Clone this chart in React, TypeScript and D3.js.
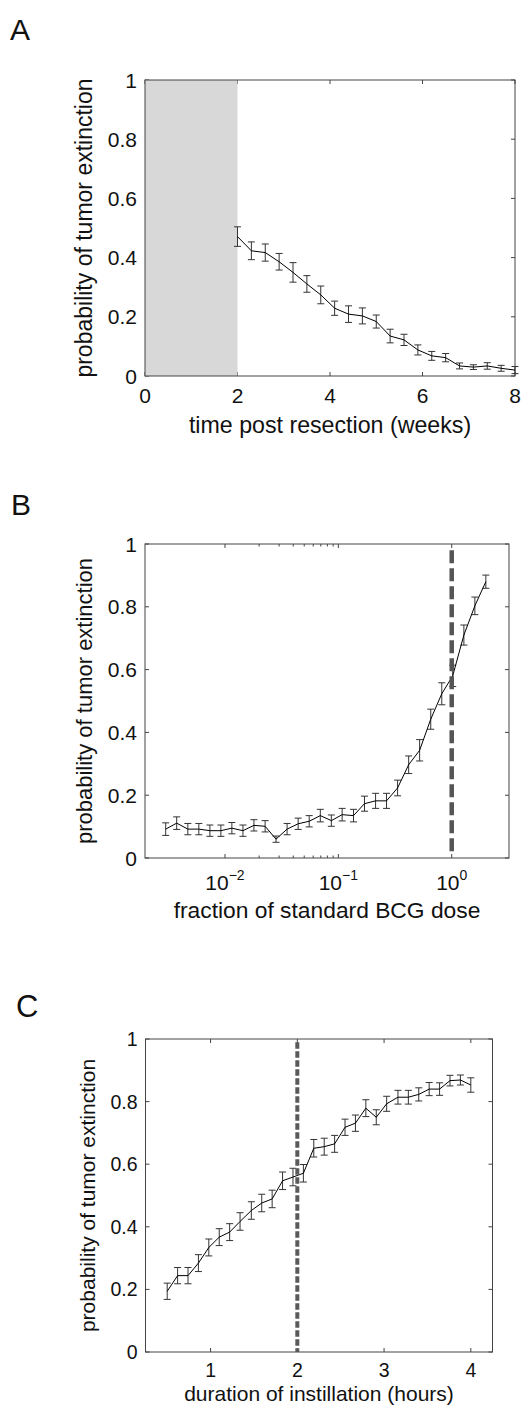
import React from "react";
import * as d3 from "d3";

// ---------- data ----------
const A_WEEKS = [2.0, 2.3, 2.6, 2.9, 3.2, 3.5, 3.8, 4.1, 4.4, 4.7, 5.0, 5.3, 5.6, 5.9, 6.2, 6.5, 6.8, 7.1, 7.4, 7.7, 8.0];
const A_PROB = [0.471, 0.423, 0.417, 0.386, 0.35, 0.311, 0.274, 0.229, 0.209, 0.203, 0.184, 0.135, 0.122, 0.088, 0.068, 0.062, 0.034, 0.03, 0.034, 0.026, 0.02];
const A_ERR = [0.033, 0.03, 0.029, 0.028, 0.033, 0.028, 0.03, 0.024, 0.028, 0.027, 0.022, 0.023, 0.019, 0.017, 0.015, 0.014, 0.01, 0.008, 0.011, 0.01, 0.012];

const B_DOSE = [0.003, 0.00375, 0.0047, 0.00588, 0.00736, 0.0092, 0.0115, 0.0144, 0.018, 0.0226, 0.0282, 0.0353, 0.0442, 0.0553, 0.0693, 0.0867, 0.108, 0.136, 0.17, 0.213, 0.266, 0.333, 0.417, 0.521, 0.653, 0.817, 1.02, 1.28, 1.6, 2.0];
const B_PROB = [0.092, 0.111, 0.092, 0.092, 0.087, 0.087, 0.095, 0.087, 0.104, 0.101, 0.06, 0.092, 0.109, 0.117, 0.135, 0.119, 0.138, 0.135, 0.173, 0.182, 0.182, 0.223, 0.297, 0.343, 0.442, 0.523, 0.58, 0.71, 0.803, 0.88];
const B_ERR = [0.02, 0.02, 0.018, 0.018, 0.018, 0.018, 0.018, 0.018, 0.018, 0.018, 0.01, 0.018, 0.018, 0.018, 0.02, 0.018, 0.02, 0.02, 0.024, 0.024, 0.024, 0.025, 0.028, 0.034, 0.032, 0.035, 0.034, 0.032, 0.028, 0.021];

const C_HOURS = [0.5, 0.62, 0.74, 0.86, 0.98, 1.1, 1.22, 1.34, 1.47, 1.59, 1.71, 1.83, 1.95, 2.07, 2.19, 2.31, 2.43, 2.55, 2.67, 2.79, 2.91, 3.03, 3.16, 3.28, 3.4, 3.52, 3.64, 3.76, 3.88, 4.0];
const C_PROB = [0.194, 0.244, 0.244, 0.284, 0.334, 0.367, 0.383, 0.417, 0.452, 0.476, 0.489, 0.547, 0.559, 0.571, 0.651, 0.656, 0.665, 0.718, 0.731, 0.779, 0.75, 0.793, 0.814, 0.814, 0.823, 0.84, 0.84, 0.867, 0.869, 0.853];
const C_ERR = [0.026, 0.026, 0.026, 0.027, 0.027, 0.027, 0.027, 0.028, 0.028, 0.028, 0.028, 0.028, 0.028, 0.028, 0.028, 0.027, 0.027, 0.026, 0.026, 0.027, 0.024, 0.024, 0.022, 0.022, 0.021, 0.021, 0.02, 0.017, 0.016, 0.023];

const Y_TICKS = [0, 0.2, 0.4, 0.6, 0.8, 1];
const A_X_TICKS = [0, 2, 4, 6, 8];
const B_X_TICKS = [0.01, 0.1, 1];
const B_X_TICK_EXP = ["−2", "−1", "0"];
const B_X_MINOR = [0.02, 0.03, 0.04, 0.05, 0.06, 0.07, 0.08, 0.09];
const C_X_TICKS = [1, 2, 3, 4];

const A_SHADE = [0, 2];
const B_REF_DOSE = 1;
const C_REF_HOURS = 2;

const Y_LABEL = "probability of tumor extinction";
const FONT = "'Liberation Sans', Arial, Helvetica, sans-serif";
const AXIS = "#444";

type PanelProps = {
  x: any;
  y: any;
  xs: number[];
  ys: number[];
  errs: number[];
  xTicks: number[];
  minorTicks?: number[];
  tickFont: number;
  labelFont: number;
  yLabelFont: number;
  xLabel: string;
  xLabelBaseline: number;
  yLabelX: number;
  renderXTick: (v: number, i: number) => React.ReactNode;
  under?: React.ReactNode;
  over?: React.ReactNode;
};

function Panel(p: PanelProps) {
  const [x0, x1] = p.x.range();
  const [yb, yt] = p.y.range();
  const line = d3
    .line<number>()
    .x((_, i) => p.x(p.xs[i]))
    .y((v) => p.y(v));
  const T = 4;
  const cap = 3.5;
  return (
    <g>
      {Y_TICKS.map((v) => (
        <g key={"yt" + v} stroke={AXIS} strokeWidth={1}>
          <line x1={x0} x2={x0 + T} y1={p.y(v)} y2={p.y(v)} />
          <line x1={x1} x2={x1 - T} y1={p.y(v)} y2={p.y(v)} />
        </g>
      ))}
      {p.xTicks.map((v) => (
        <g key={"xt" + v} stroke={AXIS} strokeWidth={1}>
          <line x1={p.x(v)} x2={p.x(v)} y1={yb} y2={yb - T} />
          <line x1={p.x(v)} x2={p.x(v)} y1={yt} y2={yt + T} />
        </g>
      ))}
      {(p.minorTicks || []).map((v) => (
        <g key={"mt" + v} stroke={AXIS} strokeWidth={1}>
          <line x1={p.x(v)} x2={p.x(v)} y1={yb} y2={yb - 2.5} />
          <line x1={p.x(v)} x2={p.x(v)} y1={yt} y2={yt + 2.5} />
        </g>
      ))}
      {p.under}
      <rect x={x0} y={yt} width={x1 - x0} height={yb - yt} fill="none" stroke={AXIS} strokeWidth={1} />
      <g stroke="#333" strokeWidth={1}>
        {p.xs.map((xv, i) => {
          const cx = p.x(xv);
          const lo = p.y(p.ys[i] - p.errs[i]);
          const hi = p.y(p.ys[i] + p.errs[i]);
          return (
            <g key={"e" + i}>
              <line x1={cx} x2={cx} y1={lo} y2={hi} />
              <line x1={cx - cap} x2={cx + cap} y1={lo} y2={lo} />
              <line x1={cx - cap} x2={cx + cap} y1={hi} y2={hi} />
            </g>
          );
        })}
      </g>
      <path d={line(p.ys) || ""} fill="none" stroke="#000" strokeWidth={1} />
      {p.over}
      {Y_TICKS.map((v) => (
        <text key={"yl" + v} x={x0 - 8} y={p.y(v)} dy="0.36em" textAnchor="end" fontSize={p.tickFont} fill="#111">
          {String(v)}
        </text>
      ))}
      {p.xTicks.map((v, i) => p.renderXTick(v, i))}
      <text x={(x0 + x1) / 2} y={p.xLabelBaseline} textAnchor="middle" fontSize={p.labelFont} fill="#111">
        {p.xLabel}
      </text>
      <text
        transform={`translate(${p.yLabelX},${(yb + yt) / 2}) rotate(-90)`}
        textAnchor="middle"
        fontSize={p.yLabelFont}
        fill="#111"
      >
        {Y_LABEL}
      </text>
    </g>
  );
}

export default function App() {
  const ax = d3.scaleLinear().domain([0, 8]).range([145, 515]);
  const ay = d3.scaleLinear().domain([0, 1]).range([376, 80]);

  const bx = d3.scaleLog().domain([0.00197, 3.2]).range([145, 509]);
  const by = d3.scaleLinear().domain([0, 1]).range([858, 544]);

  const cx = d3.scaleLinear().domain([0.25, 4.25]).range([145.5, 492.5]);
  const cy = d3.scaleLinear().domain([0, 1]).range([1352, 1039]);

  return (
    <div style={{ position: "absolute", left: 0, top: 0 }}>
      <svg width={522} height={1408} fontFamily={FONT} style={{ display: "block", background: "#fff" }}>
        <rect width={522} height={1408} fill="#fff" />
        {/* Panel A */}
        <text x={10} y={40} fontSize={30} fill="#111">A</text>
        <Panel
          x={ax}
          y={ay}
          xs={A_WEEKS}
          ys={A_PROB}
          errs={A_ERR}
          xTicks={A_X_TICKS}
          tickFont={21}
          labelFont={23.2}
          yLabelFont={23}
          xLabel="time post resection (weeks)"
          xLabelBaseline={433}
          yLabelX={92}
          renderXTick={(v) => (
            <text key={"ax" + v} x={ax(v)} y={403} textAnchor="middle" fontSize={21} fill="#111">
              {String(v)}
            </text>
          )}
          under={
            <rect
              x={ax(A_SHADE[0])}
              y={ay(1)}
              width={ax(A_SHADE[1]) - ax(A_SHADE[0])}
              height={ay(0) - ay(1)}
              fill="#d8d8d8"
            />
          }
        />

        {/* Panel B */}
        <text x={11} y={515} fontSize={30} fill="#111">B</text>
        <Panel
          x={bx}
          y={by}
          xs={B_DOSE}
          ys={B_PROB}
          errs={B_ERR}
          xTicks={B_X_TICKS}
          minorTicks={B_X_MINOR}
          tickFont={21}
          labelFont={22.8}
          yLabelFont={22}
          xLabel="fraction of standard BCG dose"
          xLabelBaseline={918}
          yLabelX={92}
          renderXTick={(v, i) => (
            <text key={"bx" + v} x={bx(v)} y={890} textAnchor="middle" fontSize={21} fill="#111">
              <tspan>10</tspan>
              <tspan dy={-10} fontSize={14}>{B_X_TICK_EXP[i]}</tspan>
            </text>
          )}
          over={
            <line
              x1={bx(B_REF_DOSE)}
              x2={bx(B_REF_DOSE)}
              y1={by(0.98)}
              y2={by(0.015)}
              stroke="#555"
              strokeWidth={4.5}
              strokeDasharray="13 5"
            />
          }
        />

        {/* Panel C */}
        <text x={16} y={1017} fontSize={31} fill="#111">C</text>
        <Panel
          x={cx}
          y={cy}
          xs={C_HOURS}
          ys={C_PROB}
          errs={C_ERR}
          xTicks={C_X_TICKS}
          tickFont={19.5}
          labelFont={21}
          yLabelFont={21}
          xLabel="duration of instillation (hours)"
          xLabelBaseline={1401}
          yLabelX={95}
          renderXTick={(v) => (
            <text key={"cx" + v} x={cx(v)} y={1377} textAnchor="middle" fontSize={19.5} fill="#111">
              {String(v)}
            </text>
          )}
          over={
            <line
              x1={cx(C_REF_HOURS)}
              x2={cx(C_REF_HOURS)}
              y1={cy(0.99)}
              y2={cy(0)}
              stroke="#5a5a5a"
              strokeWidth={4}
              strokeDasharray="6.5 2.5"
            />
          }
        />
      </svg>
    </div>
  );
}
